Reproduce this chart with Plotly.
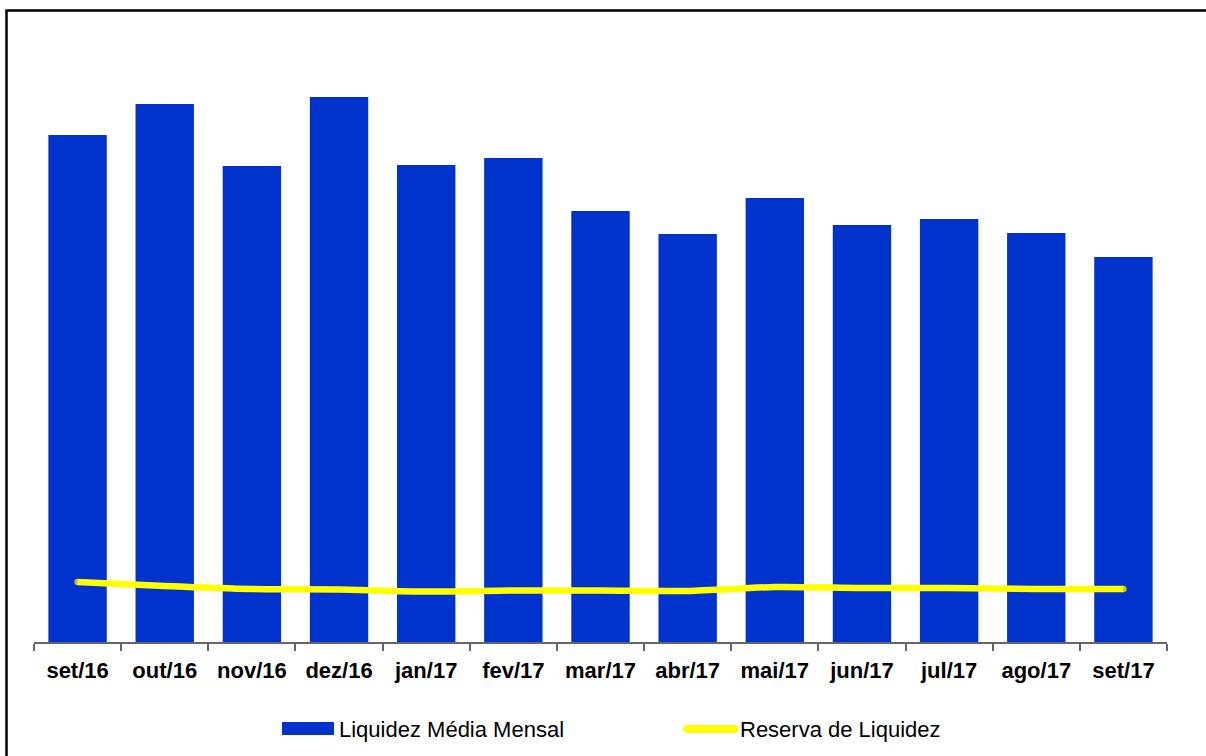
import plotly.graph_objects as go

# Monthly series (R$ bilhões)
meses = ["set/16", "out/16", "nov/16", "dez/16", "jan/17", "fev/17", "mar/17",
         "abr/17", "mai/17", "jun/17", "jul/17", "ago/17", "set/17"]
liquidez_media = [5.07, 5.38, 4.76, 5.45, 4.77, 4.84, 4.31, 4.08, 4.44, 4.17, 4.23, 4.09, 3.85]
reserva_liquidez = [0.60, 0.56, 0.53, 0.525, 0.505, 0.515, 0.515, 0.51, 0.55, 0.54, 0.54, 0.53, 0.53]

AZUL = "#0033CC"
AMARELO = "#FFFF00"
FONTE = "Liberation Sans, Arial, sans-serif"

W, H = 1206, 756
ML, MR, MT, MB = 34, 39, 42, 114
PW, PH = W - ML - MR, H - MT - MB


def px_x(p):
    return (p - ML) / PW


def px_y(p):
    return (H - MB - p) / PH


fig = go.Figure()

fig.add_trace(go.Bar(
    x=meses, y=liquidez_media, name="Liquidez Média Mensal",
    marker=dict(color=AZUL, line=dict(width=0)), showlegend=False,
))

n = len(meses)
fig.add_trace(go.Scatter(
    x=meses, y=reserva_liquidez, name="Reserva de Liquidez",
    mode="lines+markers",
    line=dict(color=AMARELO, width=6.5, shape="spline", smoothing=0.8),
    marker=dict(color=AMARELO, size=[6.5] + [0] * (n - 2) + [6.5], line=dict(width=0)),
    showlegend=False,
))

shapes = [
    # outer frame
    dict(type="rect", xref="paper", yref="paper",
         x0=px_x(6.5), x1=px_x(1215), y0=px_y(765), y1=px_y(10.5),
         line=dict(color="black", width=2.5), fillcolor="rgba(0,0,0,0)", layer="below"),
    # legend key: bars
    dict(type="rect", xref="paper", yref="paper",
         x0=px_x(282), x1=px_x(334), y0=px_y(735), y1=px_y(722),
         line=dict(width=0), fillcolor=AZUL),
    # legend key: line
    dict(type="line", xref="paper", yref="paper",
         x0=px_x(687), x1=px_x(734), y0=px_y(729), y1=px_y(729),
         line=dict(color=AMARELO, width=8)),
    dict(type="circle", xref="paper", yref="paper",
         x0=px_x(683), x1=px_x(691), y0=px_y(733), y1=px_y(725),
         line=dict(width=0), fillcolor=AMARELO),
    dict(type="circle", xref="paper", yref="paper",
         x0=px_x(730), x1=px_x(738), y0=px_y(733), y1=px_y(725),
         line=dict(width=0), fillcolor=AMARELO),
]

annotations = [
    dict(text="Liquidez Média Mensal", xref="paper", yref="paper",
         x=px_x(337), y=px_y(729), xanchor="left", yanchor="middle", showarrow=False,
         font=dict(family=FONTE, size=22, color="black")),
    dict(text="Reserva de Liquidez", xref="paper", yref="paper",
         x=px_x(738), y=px_y(729), xanchor="left", yanchor="middle", showarrow=False,
         font=dict(family=FONTE, size=22, color="black")),
]

fig.update_layout(
    width=W, height=H,
    margin=dict(l=ML, r=MR, t=MT, b=MB, pad=0),
    paper_bgcolor="white", plot_bgcolor="white",
    bargap=0.33,
    showlegend=False,
    shapes=shapes,
    annotations=annotations,
    xaxis=dict(
        type="category", showgrid=False, showline=True, linecolor="#666666", linewidth=1.5,
        ticks="outside", tickson="boundaries", ticklen=7, tickcolor="#666666", tickwidth=1.5,
        ticklabelstandoff=8,
        tickfont=dict(family=FONTE, size=22, color="black", weight="bold"),
        range=[-0.5, n - 0.5], fixedrange=True,
    ),
    yaxis=dict(
        range=[0, 6.0], showgrid=False, showline=False, showticklabels=False,
        ticks="", zeroline=False, fixedrange=True,
    ),
)

fig.write_html("out.html")
